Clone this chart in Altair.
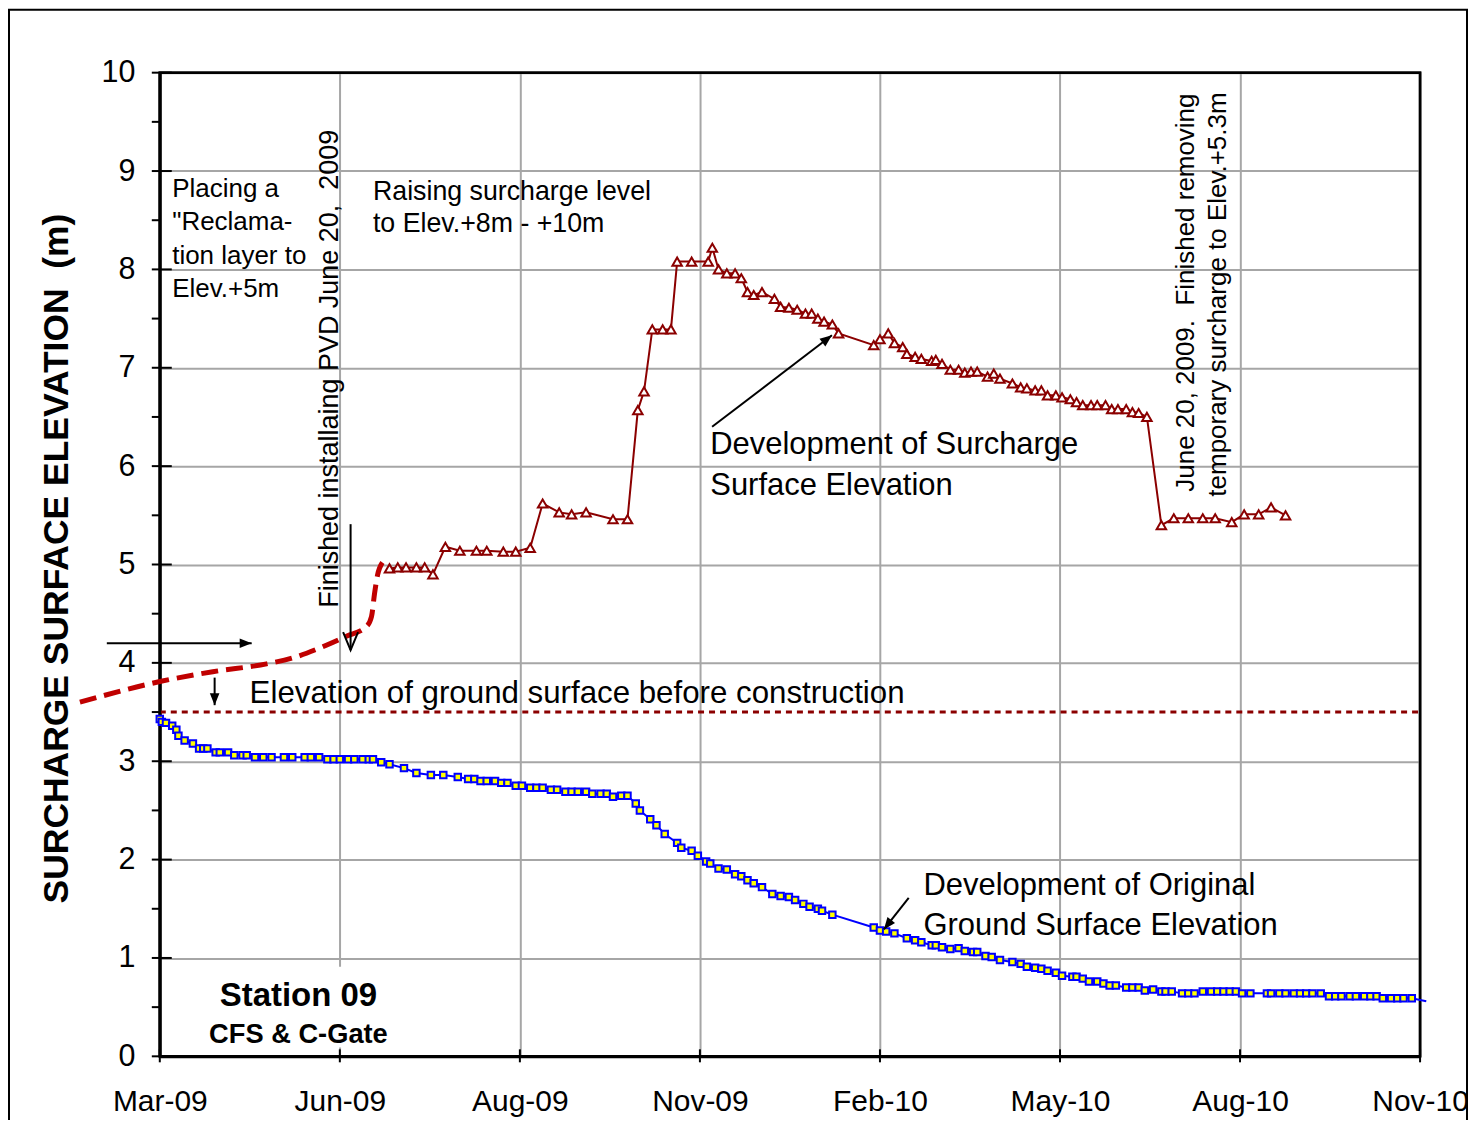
import altair as alt
import pandas as pd

FONT = "Liberation Sans, Arial, Helvetica, sans-serif"

# ---------------- data ----------------
# x positions are days after 10 Mar 2009 (first labelled axis date)
TICK_DAYS = [0, 87, 174, 261, 348, 435, 522, 609]
TICK_LABELS = ["Mar-09", "Jun-09", "Aug-09", "Nov-09", "Feb-10", "May-10", "Aug-10", "Nov-10"]
Y_TICKS = [0, 1, 2, 3, 4, 5, 6, 7, 8, 9, 10]
Y_MINOR = [0.5, 1.5, 2.5, 3.5, 4.5, 5.5, 6.5, 7.5, 8.5, 9.5]

# surcharge surface elevation (triangles)
SURCH_DAY = [111, 115, 119, 124, 128, 132,
             138, 145, 153, 158, 166, 172, 179,
             185, 193, 199, 206, 219, 226,
             231, 234, 238, 243, 247,
             250, 257, 265, 267,
             270, 274, 278, 281, 284, 287, 291,
             297, 300, 304, 308, 312, 315, 318, 321, 325, 328,
             345, 348, 352, 355, 359, 361, 365, 368, 373, 375, 378,
             382, 386, 389, 392, 395, 400, 403, 406,
             412, 416, 419, 423, 426, 429, 433, 436, 440, 443, 446,
             450, 453, 457, 460, 463, 467, 470, 473, 477,
             484, 490, 497, 504, 510, 518, 524, 531, 537, 544]
SURCH_ELEV = [4.96, 4.97, 4.97, 4.97, 4.97, 4.90,
              5.18, 5.14, 5.14, 5.14, 5.13, 5.13, 5.17,
              5.62, 5.53, 5.51, 5.53, 5.46, 5.46,
              6.57, 6.76, 7.39, 7.39, 7.39,
              8.08, 8.08, 8.08, 8.22,
              8.00, 7.96, 7.96, 7.91, 7.77, 7.74, 7.77,
              7.70, 7.62, 7.61, 7.59, 7.55, 7.55, 7.50, 7.47, 7.44, 7.35,
              7.23, 7.29, 7.35, 7.25, 7.21, 7.14, 7.11, 7.09, 7.07, 7.08, 7.04,
              6.98, 6.98, 6.95, 6.96, 6.96, 6.91, 6.94, 6.89,
              6.84, 6.80, 6.79, 6.77, 6.77, 6.72, 6.72, 6.70, 6.68, 6.65, 6.62,
              6.62, 6.62, 6.62, 6.58, 6.58, 6.58, 6.55, 6.54, 6.50,
              5.40, 5.47, 5.47, 5.47, 5.47, 5.43, 5.51, 5.51, 5.58, 5.50]

# reclamation fill placed before PVD (thick dashed curve)
FILL_DAY = [-38.6, 0, 25.6, 51.6, 64.2, 77.2, 90.2, 99.9, 102.3, 103.8, 105.2, 107.6]
FILL_ELEV = [3.60, 3.81, 3.91, 3.99, 4.05, 4.15, 4.27, 4.37, 4.47, 4.71, 4.89, 5.02]

# original ground surface elevation (yellow squares)
GROUND_DAY = [0, 1, 3, 6, 8, 9, 12, 16, 19, 21,
              23, 27, 29, 33, 36, 40, 42, 46, 50, 54,
              60, 64, 70, 73, 77, 81, 84, 87, 91, 94,
              98, 101, 103, 107, 111, 118, 124, 131, 137, 144,
              149, 152, 155, 158, 162, 165, 168, 172, 175, 179,
              182, 185, 189, 192, 196, 199, 202, 206, 209, 213,
              216, 219, 223, 226, 230, 232, 237, 240, 244, 250,
              252, 257, 260, 264, 266, 270, 274, 278, 281, 284,
              287, 291, 296, 300, 304, 307, 311, 314, 318, 320,
              325, 345, 348, 351, 355, 361, 365, 368, 373, 375,
              378, 382, 386, 389, 393, 395, 399, 402, 406, 412,
              416, 419, 423, 426, 429, 433, 436, 441, 443, 446,
              449, 453, 456, 459, 462, 467, 470, 473, 476, 480,
              484, 486, 489, 494, 497, 500, 504, 508, 511, 514,
              517, 520, 523, 527, 535, 537, 541, 544, 548, 551,
              554, 557, 561, 565, 568, 571, 575, 578, 582, 585,
              588, 591, 595, 598, 601, 605]
GROUND_ELEV = [3.43, 3.40, 3.39, 3.36, 3.32, 3.26, 3.21, 3.18, 3.13, 3.13,
               3.13, 3.09, 3.09, 3.09, 3.06, 3.06, 3.06, 3.04, 3.04, 3.04,
               3.04, 3.04, 3.04, 3.04, 3.04, 3.02, 3.02, 3.02, 3.02, 3.02,
               3.02, 3.02, 3.02, 2.99, 2.97, 2.93, 2.88, 2.86, 2.86, 2.84,
               2.82, 2.82, 2.80, 2.80, 2.80, 2.78, 2.78, 2.75, 2.75, 2.73,
               2.73, 2.73, 2.71, 2.71, 2.69, 2.69, 2.69, 2.69, 2.67, 2.67,
               2.67, 2.64, 2.65, 2.65, 2.57, 2.50, 2.41, 2.35, 2.26, 2.17,
               2.12, 2.09, 2.04, 1.98, 1.96, 1.91, 1.90, 1.85, 1.83, 1.79,
               1.76, 1.72, 1.65, 1.63, 1.62, 1.59, 1.55, 1.52, 1.50, 1.48,
               1.44, 1.31, 1.28, 1.27, 1.25, 1.20, 1.18, 1.16, 1.13, 1.13,
               1.11, 1.09, 1.10, 1.07, 1.06, 1.06, 1.02, 1.01, 0.98, 0.96,
               0.94, 0.91, 0.90, 0.89, 0.87, 0.85, 0.82, 0.81, 0.81, 0.79,
               0.76, 0.76, 0.74, 0.72, 0.72, 0.70, 0.70, 0.70, 0.67, 0.68,
               0.66, 0.66, 0.66, 0.64, 0.64, 0.64, 0.66, 0.66, 0.66, 0.66,
               0.66, 0.66, 0.64, 0.64, 0.64, 0.64, 0.64, 0.64, 0.64, 0.64,
               0.64, 0.64, 0.64, 0.61, 0.61, 0.61, 0.61, 0.61, 0.61, 0.61,
               0.61, 0.59, 0.59, 0.59, 0.59, 0.59]
GROUND_LINE_END_DAY = [612]
GROUND_LINE_END_ELEV = [0.56]

ORIG_GROUND = 3.5

# ---------------- annotations ----------------
NBSP = "\u00a0"
PLACING_TEXT = ["Placing a", "\"Reclama-", "tion layer to", "Elev.+5m"]
PLACING_DAY = [6, 6, 6, 6]
PLACING_ELEV = [8.74, 8.40, 8.06, 7.72]

RAISING_TEXT = ["Raising surcharge level", "to Elev.+8m - +10m"]
RAISING_DAY = [103, 103]
RAISING_ELEV = [8.71, 8.38]

PVD_TEXT = ["Finished installaing PVD June 20," + NBSP + " 2009"]
PVD_DAY = [86]
PVD_ELEV = [4.56]

REMOVE_TEXT = ["June 20, 2009." + NBSP + " Finished removing", "temporary surcharge to Elev.+5.3m"]
REMOVE_DAY = [500, 515]
REMOVE_ELEV = [5.74, 5.69]

GROUND_NOTE = ["Elevation of ground surface before construction"]
GROUND_NOTE_DAY = [43.4]
GROUND_NOTE_ELEV = [3.59]

SURCH_NOTE = ["Development of Surcharge", "Surface Elevation"]
SURCH_NOTE_DAY = [266, 266]
SURCH_NOTE_ELEV = [6.12, 5.71]

ORIG_NOTE = ["Development of Original", "Ground Surface Elevation"]
ORIG_NOTE_DAY = [369, 369]
ORIG_NOTE_ELEV = [1.64, 1.23]

STATION_TEXT = ["Station 09", "CFS & C-Gate"]
STATION_DAY = [67, 67]
STATION_ELEV = [0.51, 0.14]
STATION_BOX = {"d0": [20], "d1": [112], "e0": [0.09], "e1": [0.91]}

ARROW_FROM_DAY = [-25.6, 92.2, 26.5, 266.9, 361.9]
ARROW_FROM_ELEV = [4.20, 5.41, 3.85, 6.40, 1.61]
ARROW_TO_DAY = [44.4, 92.2, 26.5, 324.8, 349.9]
ARROW_TO_ELEV = [4.20, 4.13, 3.57, 7.33, 1.29]
ARROW_HEAD_ANGLE = [0, 90, 90, 322.5, 128]
ARROW_HEAD_OPEN = [False, True, False, False, False]

# ---------------- scales / axes ----------------
label_expr = "[" + ",".join("'%s'" % s for s in TICK_LABELS) + "][indexof([" + \
    ",".join(str(d) for d in TICK_DAYS) + "], datum.value)]"

XSCALE = alt.Scale(domain=[TICK_DAYS[0], TICK_DAYS[-1]], nice=False, zero=False)
YSCALE = alt.Scale(domain=[0, 10], nice=False, zero=False)

XAXIS = alt.Axis(values=TICK_DAYS, labelExpr=label_expr, title=None, grid=True,
                 gridColor="#A6A6A6", gridWidth=2, ticks=False, tickSize=0,
                 domain=True, domainColor="black", domainWidth=3,
                 labelFont=FONT, labelFontSize=30, labelColor="black",
                 labelPadding=30, labelFlush=False, labelOverlap=False, labelBound=False)
YAXIS = alt.Axis(values=Y_TICKS, title="SURCHARGE SURFACE ELEVATION" + NBSP + " (m)", grid=True,
                 gridColor="#A6A6A6", gridWidth=2, ticks=False, tickSize=0,
                 domain=True, domainColor="black", domainWidth=3,
                 labelFont=FONT, labelFontSize=30.5, labelColor="black",
                 labelPadding=25, labelFlush=False, labelOverlap=False,
                 titleFont=FONT, titleFontSize=35.5, titleFontWeight="bold",
                 titleColor="black", titleAngle=270, titleAlign="center",
                 titleBaseline="middle", titleX=-103, titleY=486)


def X(f):
    return alt.X(f"{f}:Q", scale=XSCALE, axis=XAXIS)


def Y(f):
    return alt.Y(f"{f}:Q", scale=YSCALE, axis=YAXIS)


def texts(days, elevs, lines, size, weight="normal", angle=0, align="left",
          baseline="alphabetic"):
    df = pd.DataFrame({"day": days, "elev": elevs, "t": lines})
    return alt.Chart(df).mark_text(font=FONT, fontSize=size, fontWeight=weight,
                                   angle=angle, align=align, baseline=baseline,
                                   color="black").encode(
        x=X("day"), y=Y("elev"), text="t:N")


# ---------------- layers ----------------
box = alt.Chart(pd.DataFrame(STATION_BOX)).mark_rect(color="white", opacity=1).encode(
    x=X("d0"), x2="d1", y=Y("e0"), y2="e1")

orig_line = alt.Chart(pd.DataFrame({"x0": [TICK_DAYS[0]], "x1": [TICK_DAYS[-1]],
                                    "elev": [ORIG_GROUND]})).mark_rule(
    color="#8B0000", strokeWidth=3, strokeDash=[6, 5]).encode(
    x=X("x0"), x2="x1", y=Y("elev"))

ytick_major = alt.Chart(pd.DataFrame({"v": Y_TICKS})).mark_rule(
    color="black", strokeWidth=2).encode(y=Y("v"), x=alt.value(-8), x2=alt.value(12))
ytick_minor = alt.Chart(pd.DataFrame({"v": Y_MINOR})).mark_rule(
    color="black", strokeWidth=2).encode(y=Y("v"), x=alt.value(-8), x2=alt.value(0))
xtick = alt.Chart(pd.DataFrame({"d": TICK_DAYS})).mark_rule(
    color="black", strokeWidth=2).encode(x=X("d"), y=alt.value(978), y2=alt.value(991))

frame = alt.Chart(pd.DataFrame({"a": [0]})).mark_rect(
    fillOpacity=0, stroke="black", strokeWidth=2.5).encode(
    x=alt.value(0), x2=alt.value(1262), y=alt.value(0), y2=alt.value(985))

fill_df = pd.DataFrame({"day": FILL_DAY, "elev": FILL_ELEV})
fill_line = alt.Chart(fill_df).mark_line(color="#C00000", strokeWidth=5,
                                         strokeDash=[17, 8], interpolate="monotone").encode(
    x=X("day"), y=Y("elev"))

surch_df = pd.DataFrame({"day": SURCH_DAY, "elev": SURCH_ELEV})
surch_line = alt.Chart(surch_df).mark_line(color="#8B0000", strokeWidth=2).encode(
    x=X("day"), y=Y("elev"))
surch_pts = alt.Chart(surch_df).mark_point(shape="triangle-up", size=90, fill="white",
                                           stroke="#8B0000", strokeWidth=2, opacity=1,
                                           fillOpacity=1).encode(x=X("day"), y=Y("elev"))

ground_pts_df = pd.DataFrame({"day": GROUND_DAY, "elev": GROUND_ELEV})
ground_line_df = pd.DataFrame({"day": GROUND_DAY + GROUND_LINE_END_DAY,
                               "elev": GROUND_ELEV + GROUND_LINE_END_ELEV})
ground_line = alt.Chart(ground_line_df).mark_line(color="#0000FF", strokeWidth=2).encode(
    x=X("day"), y=Y("elev"))
ground_pts = alt.Chart(ground_pts_df).mark_point(shape="square", size=42, fill="#FFFF00",
                                                 stroke="#0000FF", strokeWidth=2, opacity=1,
                                                 fillOpacity=1).encode(x=X("day"), y=Y("elev"))

arrow_rows = []
for i in range(len(ARROW_FROM_DAY)):
    arrow_rows.append({"id": i, "o": 0, "day": ARROW_FROM_DAY[i], "elev": ARROW_FROM_ELEV[i]})
    arrow_rows.append({"id": i, "o": 1, "day": ARROW_TO_DAY[i], "elev": ARROW_TO_ELEV[i]})
arrow_lines = alt.Chart(pd.DataFrame(arrow_rows)).mark_line(color="black", strokeWidth=2).encode(
    x=X("day"), y=Y("elev"), detail="id:N", order="o:Q")

heads_df = pd.DataFrame({"day": ARROW_TO_DAY, "elev": ARROW_TO_ELEV,
                         "angle": ARROW_HEAD_ANGLE, "open": ARROW_HEAD_OPEN})
filled_heads = alt.Chart(heads_df[~heads_df["open"]]).mark_point(
    shape="M0,0L-2,-0.8L-2,0.8Z", size=144, filled=True, color="black", opacity=1).encode(
    x=X("day"), y=Y("elev"), angle=alt.Angle("angle:Q", scale=None))
open_heads = alt.Chart(heads_df[heads_df["open"]]).mark_point(
    shape="M-2.4,-1L0,0L-2.4,1", size=225, filled=False, color="black",
    strokeWidth=2, opacity=1).encode(
    x=X("day"), y=Y("elev"), angle=alt.Angle("angle:Q", scale=None))

outer = alt.Chart(pd.DataFrame({"a": [0]})).mark_rect(
    fillOpacity=0, stroke="black", strokeWidth=2).encode(
    x=alt.value(-151), x2=alt.value(1309), y=alt.value(-63), y2=alt.value(1130))

layers = [
    box, orig_line, frame, ytick_major, ytick_minor, xtick,
    fill_line, surch_line, surch_pts, ground_line, ground_pts,
    texts(PLACING_DAY, PLACING_ELEV, PLACING_TEXT, 26),
    texts(RAISING_DAY, RAISING_ELEV, RAISING_TEXT, 26.8),
    texts(PVD_DAY, PVD_ELEV, PVD_TEXT, 27, angle=270),
    texts(REMOVE_DAY, REMOVE_ELEV, REMOVE_TEXT, 26, angle=270),
    texts(GROUND_NOTE_DAY, GROUND_NOTE_ELEV, GROUND_NOTE, 31.3),
    texts(SURCH_NOTE_DAY, SURCH_NOTE_ELEV, SURCH_NOTE, 31),
    texts(ORIG_NOTE_DAY, ORIG_NOTE_ELEV, ORIG_NOTE, 31),
    texts(STATION_DAY[:1], STATION_ELEV[:1], STATION_TEXT[:1], 33, weight="bold", align="center"),
    texts(STATION_DAY[1:], STATION_ELEV[1:], STATION_TEXT[1:], 27.3, weight="bold", align="center"),
    arrow_lines, filled_heads, open_heads, outer,
]

chart = alt.layer(*layers).properties(
    width=1262, height=985,
    padding={"left": 152, "top": 64, "right": 48, "bottom": 63},
    autosize=alt.AutoSizeParams(type="none"),
    background="white",
).configure_view(stroke="black", strokeWidth=2.5)

chart.save("out.html", embed_options={"renderer": "svg", "actions": False})
